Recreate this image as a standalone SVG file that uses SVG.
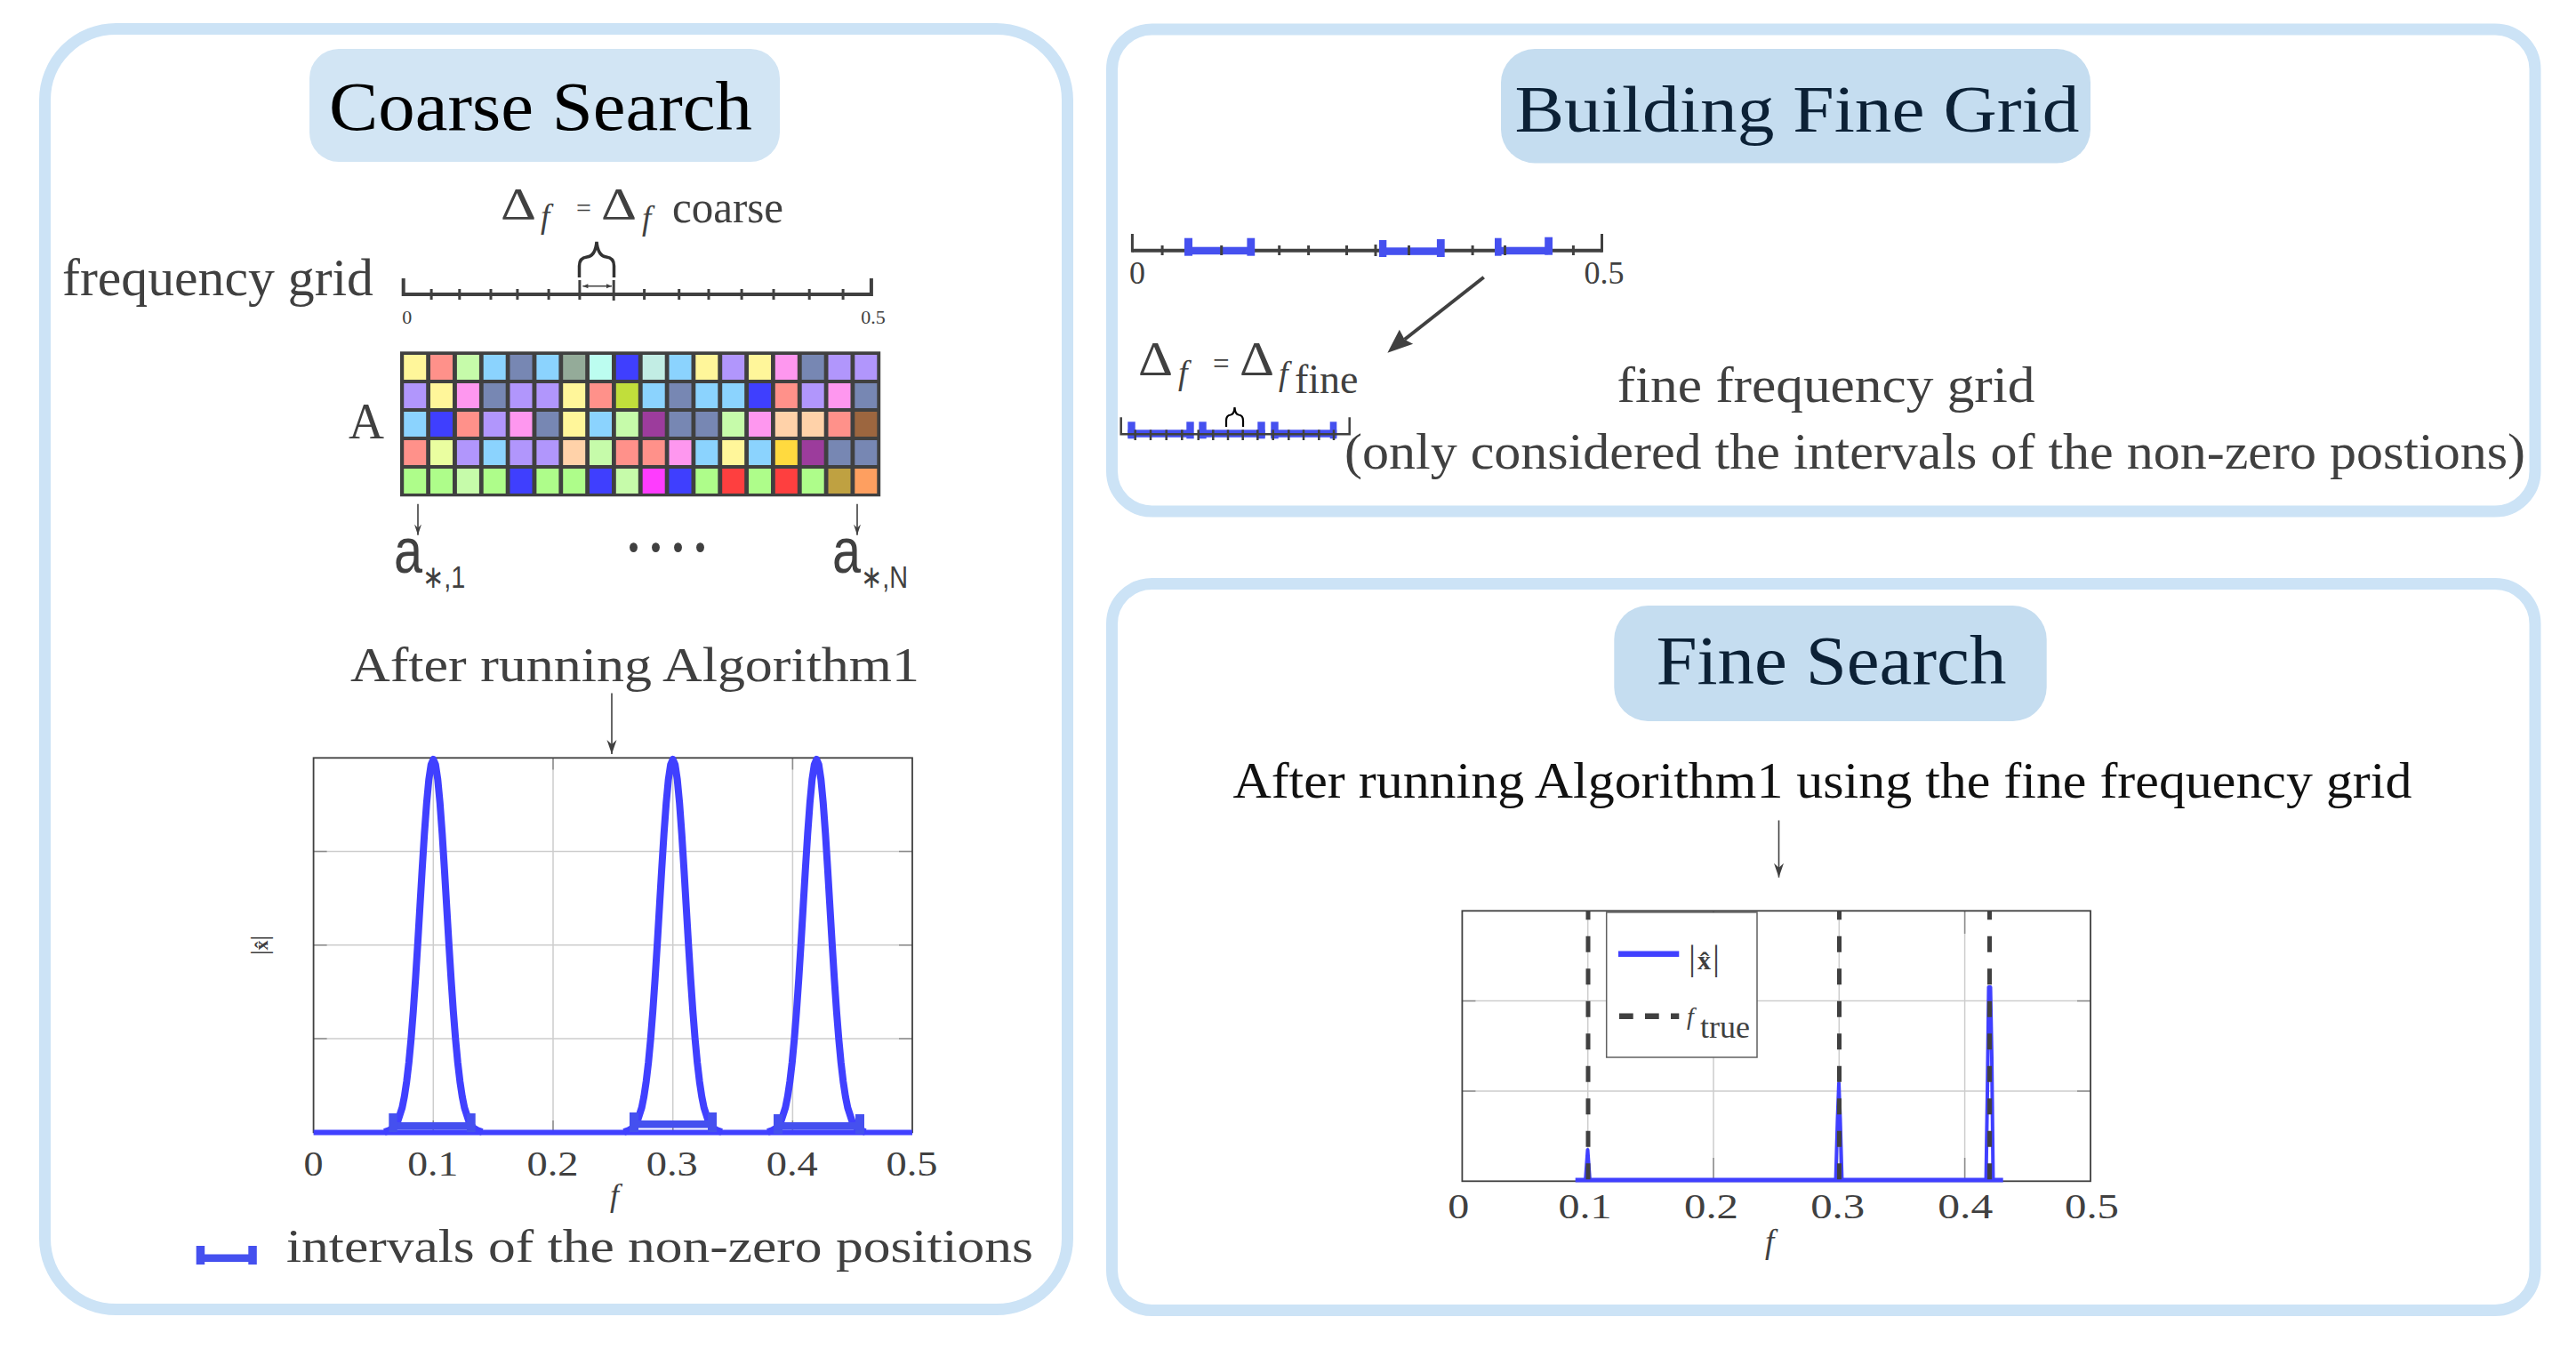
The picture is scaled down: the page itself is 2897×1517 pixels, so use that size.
<svg xmlns="http://www.w3.org/2000/svg" width="2897" height="1517" viewBox="0 0 2897 1517">
<style>
.panel{fill:#fff;stroke:#cce3f6;stroke-width:13}
.tb1{fill:#d2e5f4}
.tb2{fill:#c5ddf0}
.serif{font-family:"Liberation Serif","Times New Roman",serif}
.sans{font-family:"Liberation Sans","DejaVu Sans",Arial,sans-serif}
.g{fill:#404040}
.nv{fill:#0c2136}
.it{font-style:italic}
.mid{text-anchor:middle}
.grid{stroke:#cdcdcd;stroke-width:1.5;fill:none}
.tick{stroke:#8c8c8c;stroke-width:1.5}
.box{fill:none;stroke:#404040;stroke-width:1.8}
.ax{stroke:#404040;stroke-width:4;fill:none}
.tk{stroke:#404040;stroke-width:3}
.curve{fill:none;stroke:#4040ff;stroke-width:8;stroke-linejoin:round}
.iv{fill:#4550ef}
.conn{stroke:#404040;stroke-width:1.6;fill:none}
.dash{stroke:#404040;stroke-width:5;stroke-dasharray:18 18.5;stroke-dashoffset:8.1}
.cY{fill:#fff69a}.cS{fill:#ff918a}.cG{fill:#c6fbaa}.cB{fill:#8bd3fe}.cL{fill:#7787b3}.cGy{fill:#94ab99}.cM{fill:#bcfdf0}.cD{fill:#3f3ffe}.cT{fill:#c2ede4}.cV{fill:#b196fc}.cP{fill:#fe97ef}.cO{fill:#c1de3b}.cU{fill:#9c3c9c}.cPe{fill:#ffd2a9}.cBr{fill:#9c663f}.cEy{fill:#eafea0}.cAu{fill:#ffda3f}.cGr{fill:#aefd8a}.cMg{fill:#fe3cfe}.cR{fill:#fe3f3f}.cOl{fill:#bfa141}.cOr{fill:#fe9f60}
</style>
<defs>
<marker id="ah" viewBox="-16 -6 17 12" refX="0" refY="0" markerWidth="17" markerHeight="12" orient="auto" markerUnits="userSpaceOnUse"><path d="M0,0 L-16,-5.5 L-11,0 L-16,5.5 Z" fill="#404040"/></marker>
<marker id="ahs" viewBox="-12 -5 13 10" refX="0" refY="0" markerWidth="13" markerHeight="10" orient="auto" markerUnits="userSpaceOnUse"><path d="M0,0 L-12,-4 L-8,0 L-12,4 Z" fill="#404040"/></marker>
<marker id="aht" viewBox="-7 -4 8 8" refX="0" refY="0" markerWidth="8" markerHeight="8" orient="auto-start-reverse" markerUnits="userSpaceOnUse"><path d="M0,0 L-6,-2.5 L-6,2.5 Z" fill="#404040"/></marker>
<path id="peak" d="M-55,1273 L-50,1271.4 L-45,1268.3 L-40,1261 L-35,1245.5 L-32.5,1233 L-30,1216.3 L-27.5,1195 L-25,1168.5 L-22.5,1137 L-20,1100.8 L-17.5,1060.9 L-15,1018.9 L-12.5,977 L-10,937.4 L-7.5,903.2 L-5,876.6 L-2.5,859.8 L0,854 L2.5,859.8 L5,876.6 L7.5,903.2 L10,937.4 L12.5,977 L15,1018.9 L17.5,1060.9 L20,1100.8 L22.5,1137 L25,1168.5 L27.5,1195 L30,1216.3 L32.5,1233 L35,1245.5 L40,1261 L45,1268.3 L50,1271.4 L55,1273"/>
</defs>
<rect x="0" y="0" width="2897" height="1517" fill="#fff"/>

<g id="coarse-search">
<rect class="panel" x="50.5" y="32.5" width="1150" height="1440" rx="80"/>
<g id="title-coarse">
<rect class="tb1" x="348" y="55" width="529" height="127" rx="33"/>
<text class="serif" x="370" y="146" font-size="79" textLength="476" lengthAdjust="spacingAndGlyphs" fill="#000">Coarse Search</text>
</g>
<g id="coarse-grid">
<text class="serif g" x="70" y="332" font-size="60" textLength="350" lengthAdjust="spacingAndGlyphs">frequency grid</text>
<text class="serif g" x="563" y="245.5" font-size="50" textLength="40" lengthAdjust="spacingAndGlyphs">Δ</text>
<text class="serif g it" x="608" y="256" font-size="37">f</text>
<text class="serif g" x="648" y="244" font-size="30">=</text>
<text class="serif g" x="676" y="246" font-size="50" textLength="40" lengthAdjust="spacingAndGlyphs">Δ</text>
<text class="serif g it" x="722" y="258" font-size="37">f</text>
<text class="serif g" x="756" y="250" font-size="50" textLength="125" lengthAdjust="spacingAndGlyphs">coarse</text>
<path d="M453.7,313 V331 H979.9 V313" class="ax"/>
<g class="tk">
<line x1="485.1" y1="325" x2="485.1" y2="337"/><line x1="516.8" y1="325" x2="516.8" y2="337"/><line x1="552" y1="325" x2="552" y2="337"/><line x1="581.9" y1="325" x2="581.9" y2="337"/><line x1="617.1" y1="325" x2="617.1" y2="337"/><line x1="651.9" y1="315" x2="651.9" y2="337"/><line x1="690.2" y1="315" x2="690.2" y2="338"/><line x1="724.6" y1="325" x2="724.6" y2="337"/><line x1="763.7" y1="325" x2="763.7" y2="337"/><line x1="797" y1="325" x2="797" y2="337"/><line x1="834.1" y1="325" x2="834.1" y2="337"/><line x1="870" y1="325" x2="870" y2="337"/><line x1="910.2" y1="325" x2="910.2" y2="337"/><line x1="948.1" y1="325" x2="948.1" y2="337"/>
</g>
<path d="M651.5,312 V299 Q651.5,290 660,289 Q669.5,288 671,272 Q672.5,288 682,289 Q690.5,290 690.5,299 V312" fill="none" stroke="#333" stroke-width="3.5"/>
<text class="serif g mid" x="457.7" y="364" font-size="22">0</text>
<text class="serif g mid" x="982" y="364" font-size="22">0.5</text>
</g>
<g id="matrix-A">
<text class="serif g" x="392" y="492.7" font-size="58" textLength="40" lengthAdjust="spacingAndGlyphs">A</text>
<rect x="450" y="395.3" width="540.2" height="163" fill="#404040"/>
<g>
<rect x="454.2" y="399" width="25" height="28" class="cY"/><rect x="484" y="399" width="25" height="28" class="cS"/><rect x="513.9" y="399" width="25" height="28" class="cG"/><rect x="543.7" y="399" width="25" height="28" class="cB"/><rect x="573.5" y="399" width="25" height="28" class="cL"/><rect x="603.4" y="399" width="25" height="28" class="cB"/><rect x="633.2" y="399" width="25" height="28" class="cGy"/><rect x="663" y="399" width="25" height="28" class="cM"/><rect x="692.8" y="399" width="25" height="28" class="cD"/><rect x="722.7" y="399" width="25" height="28" class="cT"/><rect x="752.5" y="399" width="25" height="28" class="cB"/><rect x="782.3" y="399" width="25" height="28" class="cY"/><rect x="812.2" y="399" width="25" height="28" class="cV"/><rect x="842" y="399" width="25" height="28" class="cY"/><rect x="871.8" y="399" width="25" height="28" class="cP"/><rect x="901.7" y="399" width="25" height="28" class="cL"/><rect x="931.5" y="399" width="25" height="28" class="cV"/><rect x="961.3" y="399" width="25" height="28" class="cV"/>
<rect x="454.2" y="431" width="25" height="28" class="cV"/><rect x="484" y="431" width="25" height="28" class="cY"/><rect x="513.9" y="431" width="25" height="28" class="cP"/><rect x="543.7" y="431" width="25" height="28" class="cL"/><rect x="573.5" y="431" width="25" height="28" class="cV"/><rect x="603.4" y="431" width="25" height="28" class="cV"/><rect x="633.2" y="431" width="25" height="28" class="cY"/><rect x="663" y="431" width="25" height="28" class="cS"/><rect x="692.8" y="431" width="25" height="28" class="cO"/><rect x="722.7" y="431" width="25" height="28" class="cB"/><rect x="752.5" y="431" width="25" height="28" class="cL"/><rect x="782.3" y="431" width="25" height="28" class="cB"/><rect x="812.2" y="431" width="25" height="28" class="cB"/><rect x="842" y="431" width="25" height="28" class="cD"/><rect x="871.8" y="431" width="25" height="28" class="cS"/><rect x="901.7" y="431" width="25" height="28" class="cV"/><rect x="931.5" y="431" width="25" height="28" class="cP"/><rect x="961.3" y="431" width="25" height="28" class="cL"/>
<rect x="454.2" y="463" width="25" height="28" class="cB"/><rect x="484" y="463" width="25" height="28" class="cD"/><rect x="513.9" y="463" width="25" height="28" class="cS"/><rect x="543.7" y="463" width="25" height="28" class="cV"/><rect x="573.5" y="463" width="25" height="28" class="cP"/><rect x="603.4" y="463" width="25" height="28" class="cL"/><rect x="633.2" y="463" width="25" height="28" class="cY"/><rect x="663" y="463" width="25" height="28" class="cB"/><rect x="692.8" y="463" width="25" height="28" class="cG"/><rect x="722.7" y="463" width="25" height="28" class="cU"/><rect x="752.5" y="463" width="25" height="28" class="cL"/><rect x="782.3" y="463" width="25" height="28" class="cL"/><rect x="812.2" y="463" width="25" height="28" class="cG"/><rect x="842" y="463" width="25" height="28" class="cP"/><rect x="871.8" y="463" width="25" height="28" class="cPe"/><rect x="901.7" y="463" width="25" height="28" class="cPe"/><rect x="931.5" y="463" width="25" height="28" class="cS"/><rect x="961.3" y="463" width="25" height="28" class="cBr"/>
<rect x="454.2" y="495" width="25" height="28" class="cS"/><rect x="484" y="495" width="25" height="28" class="cEy"/><rect x="513.9" y="495" width="25" height="28" class="cV"/><rect x="543.7" y="495" width="25" height="28" class="cB"/><rect x="573.5" y="495" width="25" height="28" class="cV"/><rect x="603.4" y="495" width="25" height="28" class="cV"/><rect x="633.2" y="495" width="25" height="28" class="cPe"/><rect x="663" y="495" width="25" height="28" class="cG"/><rect x="692.8" y="495" width="25" height="28" class="cS"/><rect x="722.7" y="495" width="25" height="28" class="cS"/><rect x="752.5" y="495" width="25" height="28" class="cP"/><rect x="782.3" y="495" width="25" height="28" class="cB"/><rect x="812.2" y="495" width="25" height="28" class="cY"/><rect x="842" y="495" width="25" height="28" class="cB"/><rect x="871.8" y="495" width="25" height="28" class="cAu"/><rect x="901.7" y="495" width="25" height="28" class="cU"/><rect x="931.5" y="495" width="25" height="28" class="cL"/><rect x="961.3" y="495" width="25" height="28" class="cL"/>
<rect x="454.2" y="527" width="25" height="28" class="cGr"/><rect x="484" y="527" width="25" height="28" class="cGr"/><rect x="513.9" y="527" width="25" height="28" class="cG"/><rect x="543.7" y="527" width="25" height="28" class="cGr"/><rect x="573.5" y="527" width="25" height="28" class="cD"/><rect x="603.4" y="527" width="25" height="28" class="cGr"/><rect x="633.2" y="527" width="25" height="28" class="cGr"/><rect x="663" y="527" width="25" height="28" class="cD"/><rect x="692.8" y="527" width="25" height="28" class="cG"/><rect x="722.7" y="527" width="25" height="28" class="cMg"/><rect x="752.5" y="527" width="25" height="28" class="cD"/><rect x="782.3" y="527" width="25" height="28" class="cGr"/><rect x="812.2" y="527" width="25" height="28" class="cR"/><rect x="842" y="527" width="25" height="28" class="cGr"/><rect x="871.8" y="527" width="25" height="28" class="cR"/><rect x="901.7" y="527" width="25" height="28" class="cGr"/><rect x="931.5" y="527" width="25" height="28" class="cOl"/><rect x="961.3" y="527" width="25" height="28" class="cOr"/>
</g>
<text class="sans g" transform="translate(443,644) scale(0.8,1)" font-size="72">a<tspan font-size="36" dy="17">∗,1</tspan></text>
<text class="serif g" x="700" y="646" font-size="90" textLength="100" lengthAdjust="spacingAndGlyphs">····</text>
<text class="sans g" transform="translate(936,644) scale(0.8,1)" font-size="72">a<tspan font-size="36" dy="17">∗,N</tspan></text>
</g>
<g id="coarse-result">
<text class="serif g" x="394" y="765.5" font-size="54" textLength="640" lengthAdjust="spacingAndGlyphs">After running Algorithm1</text>
<g class="grid">
<line x1="487.3" y1="852.3" x2="487.3" y2="1273.3"/><line x1="622" y1="852.3" x2="622" y2="1273.3"/><line x1="756.7" y1="852.3" x2="756.7" y2="1273.3"/><line x1="891.4" y1="852.3" x2="891.4" y2="1273.3"/>
<line x1="352.6" y1="957.5" x2="1026" y2="957.5"/><line x1="352.6" y1="1062.8" x2="1026" y2="1062.8"/><line x1="352.6" y1="1168" x2="1026" y2="1168"/>
</g>
<g class="tick">
<line x1="352.6" y1="957.5" x2="367.6" y2="957.5"/><line x1="352.6" y1="1062.8" x2="367.6" y2="1062.8"/><line x1="352.6" y1="1168" x2="367.6" y2="1168"/>
<line x1="1011" y1="957.5" x2="1026" y2="957.5"/><line x1="1011" y1="1062.8" x2="1026" y2="1062.8"/><line x1="1011" y1="1168" x2="1026" y2="1168"/>
<line x1="487.3" y1="852.3" x2="487.3" y2="865.5"/><line x1="622" y1="852.3" x2="622" y2="865.5"/><line x1="756.7" y1="852.3" x2="756.7" y2="865.5"/><line x1="891.4" y1="852.3" x2="891.4" y2="865.5"/>
<line x1="487.3" y1="1260" x2="487.3" y2="1273.3"/><line x1="622" y1="1260" x2="622" y2="1273.3"/><line x1="756.7" y1="1260" x2="756.7" y2="1273.3"/><line x1="891.4" y1="1260" x2="891.4" y2="1273.3"/>
</g>
<rect class="box" x="352.6" y="852.3" width="673.4" height="421"/>
<line x1="352.6" y1="1273.5" x2="1026" y2="1273.5" stroke="#4040ff" stroke-width="6"/>
<use href="#peak" x="487.3" class="curve"/>
<use href="#peak" x="756.7" class="curve"/>
<use href="#peak" x="918.3" class="curve"/>
<g class="iv">
<rect x="441.7" y="1262" width="87.3" height="8.5"/><rect x="437.3" y="1252" width="9.4" height="21"/><rect x="525" y="1252" width="9.7" height="21"/>
<rect x="713" y="1260" width="87" height="8.5"/><rect x="708" y="1251" width="10" height="22"/><rect x="796" y="1251" width="10" height="22"/>
<rect x="875" y="1262" width="88" height="8.5"/><rect x="870" y="1253" width="10" height="22"/><rect x="962" y="1253" width="10" height="22"/>
</g>
<g class="serif g mid" font-size="40">
<text x="352.5" y="1321.7" textLength="22" lengthAdjust="spacingAndGlyphs">0</text>
<text x="486.7" y="1321.7" textLength="57" lengthAdjust="spacingAndGlyphs">0.1</text>
<text x="621.5" y="1321.7" textLength="58" lengthAdjust="spacingAndGlyphs">0.2</text>
<text x="755.8" y="1321.7" textLength="58" lengthAdjust="spacingAndGlyphs">0.3</text>
<text x="890.8" y="1321.7" textLength="58" lengthAdjust="spacingAndGlyphs">0.4</text>
<text x="1025.5" y="1321.7" textLength="58" lengthAdjust="spacingAndGlyphs">0.5</text>
</g>
<text class="serif g it" x="686" y="1356" font-size="36">f</text>
<text class="serif g" transform="translate(301,1074) rotate(-90)" font-size="28">|<tspan font-size="22" font-weight="bold">x̂</tspan>|</text>
</g>
<g id="coarse-legend">
<g class="iv">
<rect x="228" y="1410.5" width="54" height="8.5"/><rect x="220.7" y="1401" width="9.5" height="21"/><rect x="279.3" y="1401" width="9.5" height="21"/>
</g>
<text class="serif g" x="322" y="1419" font-size="53" textLength="840" lengthAdjust="spacingAndGlyphs">intervals of the non-zero positions</text>
</g>
</g>

<g id="building-fine-grid">
<rect class="panel" x="1250.5" y="33" width="1600.5" height="542" rx="45"/>
<g id="title-building">
<rect class="tb2" x="1688" y="55" width="663" height="128.5" rx="38"/>
<text class="serif nv" x="1703.4" y="147.6" font-size="75" textLength="635" lengthAdjust="spacingAndGlyphs">Building Fine Grid</text>
</g>
<g id="coarse-intervals-axis">
<line x1="1273.4" y1="281.7" x2="1801.5" y2="281.7" class="ax"/>
<line x1="1273.4" y1="263" x2="1273.4" y2="283.7" class="tk"/>
<line x1="1801.5" y1="263" x2="1801.5" y2="283.7" class="tk"/>
<g class="iv">
<rect x="1336" y="277.7" width="70" height="8.5"/><rect x="1332" y="267.7" width="9" height="20"/><rect x="1402.4" y="267.7" width="8.8" height="20"/>
<rect x="1555" y="278.3" width="65" height="8.5"/><rect x="1550.9" y="270" width="8.4" height="19"/><rect x="1615.9" y="269" width="8.8" height="20"/>
<rect x="1685" y="277.7" width="56" height="8.5"/><rect x="1681" y="267.7" width="7.6" height="20"/><rect x="1737.2" y="266.7" width="8.8" height="20"/>
</g>
<g class="tk">
<line x1="1307.1" y1="276" x2="1307.1" y2="287"/><line x1="1373.7" y1="276" x2="1373.7" y2="287"/><line x1="1438.7" y1="276" x2="1438.7" y2="287"/><line x1="1471.6" y1="276" x2="1471.6" y2="287"/><line x1="1514.5" y1="276" x2="1514.5" y2="287"/><line x1="1547" y1="275" x2="1547" y2="288"/><line x1="1584.5" y1="276" x2="1584.5" y2="287"/><line x1="1656.1" y1="276" x2="1656.1" y2="287"/><line x1="1692.5" y1="276" x2="1692.5" y2="287"/><line x1="1769.4" y1="276" x2="1769.4" y2="287"/>
</g>
<text class="serif g mid" x="1279" y="319" font-size="36">0</text>
<text class="serif g mid" x="1804" y="319" font-size="36">0.5</text>
</g>
<g id="fine-axis">
<text class="serif g" x="1280" y="422" font-size="55" textLength="39" lengthAdjust="spacingAndGlyphs">Δ</text>
<text class="serif g it" x="1325" y="432" font-size="38">f</text>
<text class="serif g" x="1364" y="420" font-size="33">=</text>
<text class="serif g" x="1394" y="422" font-size="55" textLength="39" lengthAdjust="spacingAndGlyphs">Δ</text>
<text class="serif g" x="1438" y="433" font-size="38"><tspan font-style="italic">f</tspan><tspan x="1456" y="441.7" font-size="46">fine</tspan></text>
<g class="iv">
<rect x="1268.3" y="483.3" width="71" height="8.5"/><rect x="1268.3" y="474.3" width="8.4" height="19"/><rect x="1334.3" y="474.3" width="8.4" height="19"/>
<rect x="1348.3" y="483.3" width="74.4" height="8.5"/><rect x="1348.3" y="474.3" width="8.4" height="19"/><rect x="1414.3" y="474.3" width="8.4" height="19"/>
<rect x="1429.3" y="483.3" width="74" height="8.5"/><rect x="1429.3" y="474.3" width="8.4" height="19"/><rect x="1495.7" y="474.3" width="7.6" height="19"/>
</g>
<path d="M1260.7,469.3 V488.3 H1517.7 V469.3" fill="none" stroke="#404040" stroke-width="2.5"/>
<g stroke="#404040" stroke-width="2.5">
<line x1="1276.7" y1="483.3" x2="1276.7" y2="495"/><line x1="1294" y1="483.3" x2="1294" y2="495"/><line x1="1311.7" y1="483.3" x2="1311.7" y2="495"/><line x1="1329.3" y1="483.3" x2="1329.3" y2="495"/><line x1="1347.7" y1="483.3" x2="1347.7" y2="495"/><line x1="1364.3" y1="483.3" x2="1364.3" y2="495"/><line x1="1381" y1="483.3" x2="1381" y2="495"/><line x1="1397.7" y1="483.3" x2="1397.7" y2="495"/><line x1="1414.3" y1="483.3" x2="1414.3" y2="495"/><line x1="1431.7" y1="483.3" x2="1431.7" y2="495"/><line x1="1449.3" y1="483.3" x2="1449.3" y2="495"/><line x1="1466" y1="483.3" x2="1466" y2="495"/><line x1="1483.3" y1="483.3" x2="1483.3" y2="495"/><line x1="1500" y1="483.3" x2="1500" y2="495"/>
</g>
<path d="M1379,480 V473 Q1379,467 1384,466.5 Q1388,466 1388.5,458 Q1389,466 1393,466.5 Q1398,467 1398,473 V480" fill="none" stroke="#000" stroke-width="2.2"/>
</g>
<text class="serif g" x="1818.5" y="452" font-size="57" textLength="470" lengthAdjust="spacingAndGlyphs">fine frequency grid</text>
<text class="serif g" x="1512" y="527" font-size="58" textLength="1328" lengthAdjust="spacingAndGlyphs">(only considered the intervals of the non-zero postions)</text>
</g>

<g id="fine-search">
<rect class="panel" x="1250.5" y="656.5" width="1600.5" height="817" rx="45"/>
<g id="title-fine">
<rect class="tb2" x="1815.3" y="681" width="486.4" height="130" rx="38"/>
<text class="serif nv" x="1862.4" y="769" font-size="79" textLength="394" lengthAdjust="spacingAndGlyphs">Fine Search</text>
</g>
<text class="serif" x="1386.4" y="896.7" font-size="56" textLength="1326" lengthAdjust="spacingAndGlyphs" fill="#111">After running Algorithm1 using the fine frequency grid</text>
<g id="fine-plot">
<g class="grid">
<line x1="1785.7" y1="1024.3" x2="1785.7" y2="1328.3"/><line x1="1927" y1="1024.3" x2="1927" y2="1328.3"/><line x1="2068.3" y1="1024.3" x2="2068.3" y2="1328.3"/><line x1="2209.6" y1="1024.3" x2="2209.6" y2="1328.3"/>
<line x1="1644.4" y1="1125.6" x2="2351" y2="1125.6"/><line x1="1644.4" y1="1227" x2="2351" y2="1227"/>
</g>
<g class="tick">
<line x1="1644.4" y1="1125.6" x2="1659.4" y2="1125.6"/><line x1="1644.4" y1="1227" x2="1659.4" y2="1227"/>
<line x1="2336" y1="1125.6" x2="2351" y2="1125.6"/><line x1="2336" y1="1227" x2="2351" y2="1227"/>
<line x1="1927" y1="1302" x2="1927" y2="1328.3"/><line x1="2209.6" y1="1302" x2="2209.6" y2="1328.3"/>
<line x1="1927" y1="1024.3" x2="1927" y2="1050"/><line x1="2209.6" y1="1024.3" x2="2209.6" y2="1050"/>
</g>
<rect class="box" x="1644.4" y="1024.3" width="706.6" height="304"/>
<line x1="1771.7" y1="1327" x2="2252.7" y2="1327" stroke="#4040ff" stroke-width="5"/>
<g fill="none" stroke="#4040ff" stroke-width="4" stroke-linejoin="round">
<path d="M1783,1328 L1785.5,1293 L1788,1328"/>
<path d="M2064.5,1328 L2066.5,1258 L2068,1218 L2069.5,1258 L2071.5,1328"/>
<path d="M2233.5,1328 L2235,1230 L2236.5,1110 L2238.5,1110 L2240,1190 L2241.5,1328"/>
</g>
<g class="dash">
<line x1="1786" y1="1024.3" x2="1786" y2="1328.3"/>
<line x1="2068.5" y1="1024.3" x2="2068.5" y2="1328.3"/>
<line x1="2237.5" y1="1024.3" x2="2237.5" y2="1328.3"/>
</g>
<g id="fine-legend">
<rect x="1806.7" y="1026" width="169.3" height="163" fill="#fff" stroke="#606060" stroke-width="1.5"/>
<line x1="1820" y1="1072.7" x2="1888.3" y2="1072.7" stroke="#4040ff" stroke-width="6.5"/>
<text class="serif g" x="1899" y="1090" font-size="40">|<tspan font-size="30" font-weight="bold" dx="2">x̂</tspan><tspan dx="2">|</tspan></text>
<line x1="1821" y1="1142.7" x2="1888.3" y2="1142.7" stroke="#404040" stroke-width="6.5" stroke-dasharray="15.7 13.3"/>
<text class="serif g" x="1897" y="1152" font-size="28" font-style="italic">f<tspan x="1912" y="1166.7" font-size="36" font-style="normal">true</tspan></text>
</g>
<g class="serif g mid" font-size="40">
<text x="1640.3" y="1370" textLength="24" lengthAdjust="spacingAndGlyphs">0</text>
<text x="1782.5" y="1370" textLength="60" lengthAdjust="spacingAndGlyphs">0.1</text>
<text x="1924.5" y="1370" textLength="61" lengthAdjust="spacingAndGlyphs">0.2</text>
<text x="2066.7" y="1370" textLength="61" lengthAdjust="spacingAndGlyphs">0.3</text>
<text x="2210.3" y="1370" textLength="62" lengthAdjust="spacingAndGlyphs">0.4</text>
<text x="2352.5" y="1370" textLength="61" lengthAdjust="spacingAndGlyphs">0.5</text>
</g>
<text class="serif g it" x="1985" y="1408.6" font-size="37">f</text>
</g>
</g>

<g id="connectors">
<line class="conn" x1="655.4" y1="321.7" x2="688" y2="321.7" stroke-width="1.2" marker-start="url(#aht)" marker-end="url(#aht)"/>
<line class="conn" x1="470" y1="566.7" x2="470" y2="601.7" stroke-width="1.4" marker-end="url(#ahs)"/>
<line class="conn" x1="964" y1="566.7" x2="964" y2="601.7" stroke-width="1.4" marker-end="url(#ahs)"/>
<line class="conn" x1="688" y1="779.6" x2="688" y2="848" marker-end="url(#ah)"/>
<line class="conn" x1="2000.5" y1="922.5" x2="2000.5" y2="986.7" marker-end="url(#ah)"/>
<line x1="1668.7" y1="311.7" x2="1579.6" y2="381.7" stroke="#404040" stroke-width="4"/>
<polygon points="1560.4,396.7 1573.8,370.7 1579.6,381.7 1589.1,386.7" fill="#404040"/>
</g>
</svg>
